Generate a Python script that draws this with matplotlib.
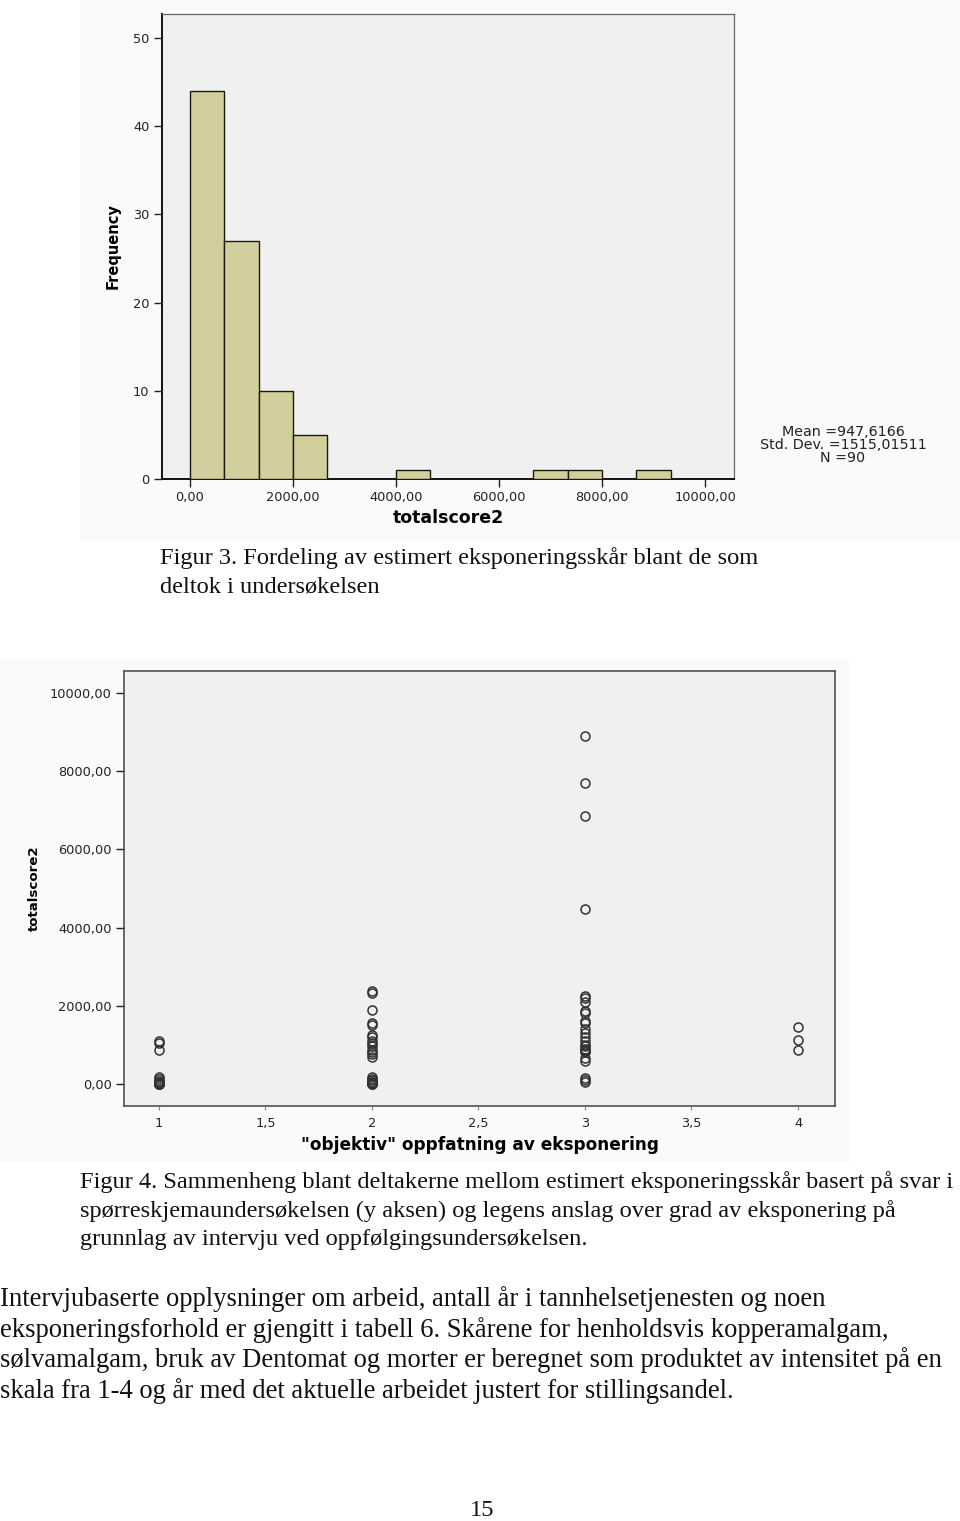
import matplotlib
matplotlib.use("Agg")
import matplotlib.pyplot as plt
from matplotlib.patches import Rectangle

# ---------------- data ----------------
bin_width = 666.67
bin_lefts = [0, 666.67, 1333.33, 2000, 4000, 6666.67, 7333.33, 8666.67]
bin_counts = [44, 27, 10, 5, 1, 1, 1, 1]
hist_xticks = [0, 2000, 4000, 6000, 8000, 10000]
hist_xticklabels = ["0,00", "2000,00", "4000,00", "6000,00", "8000,00", "10000,00"]
hist_yticks = [0, 10, 20, 30, 40, 50]
stats_lines = ["Mean =947,6166", "Std. Dev. =1515,01511", "N =90"]

group1 = [1090, 1060, 870, 180, 120, 80, 50, 30, 20, 10, 0, 0, 0, 0, 0]
group2 = [2370, 2330, 1880, 1560, 1510, 1250, 1190, 1100, 1050, 960, 880, 830,
          760, 700, 170, 130, 90, 60, 40, 20, 0, 0, 0]
group3 = [8900, 7690, 6860, 4470, 2240, 2190, 2100, 1860, 1820, 1600, 1560, 1410,
          1300, 1190, 1100, 1000, 960, 900, 870, 840, 820, 660, 580, 150, 90, 50]
group4 = [1470, 1120, 860]
scatter_groups = [(1, group1), (2, group2), (3, group3), (4, group4)]
sc_xticks = [1, 1.5, 2, 2.5, 3, 3.5, 4]
sc_xticklabels = ["1", "1,5", "2", "2,5", "3", "3,5", "4"]
sc_yticks = [0, 2000, 4000, 6000, 8000, 10000]
sc_yticklabels = ["0,00", "2000,00", "4000,00", "6000,00", "8000,00", "10000,00"]

caption3 = ["Figur 3. Fordeling av estimert eksponeringsskår blant de som",
            "deltok i undersøkelsen"]
caption4 = ["Figur 4. Sammenheng blant deltakerne mellom estimert eksponeringsskår basert på svar i",
            "spørreskjemaundersøkelsen (y aksen) og legens anslag over grad av eksponering på",
            "grunnlag av intervju ved oppfølgingsundersøkelsen."]
body = ["Intervjubaserte opplysninger om arbeid, antall år i tannhelsetjenesten og noen",
        "eksponeringsforhold er gjengitt i tabell 6. Skårene for henholdsvis kopperamalgam,",
        "sølvamalgam, bruk av Dentomat og morter er beregnet som produktet av intensitet på en",
        "skala fra 1-4 og år med det aktuelle arbeidet justert for stillingsandel."]
page_number = "15"

# ---------------- figure ----------------
W, H = 960, 1521
fig = plt.figure(figsize=(W / 100, H / 100), dpi=100)
fig.patch.set_facecolor("white")


def fx(x):
    return x / W


def fy(y):
    return 1 - y / H


def axrect(l, t, r, b):
    return [fx(l), fy(b), (r - l) / W, (b - t) / H]


# faint background of chart images
fig.patches.append(Rectangle((fx(80), fy(540)), (960 - 80) / W, 540 / H,
                             transform=fig.transFigure, facecolor="#FAFAFA",
                             edgecolor="none", zorder=-10))
fig.patches.append(Rectangle((fx(0), fy(1162)), 850 / W, (1162 - 660) / H,
                             transform=fig.transFigure, facecolor="#FAFAFA",
                             edgecolor="none", zorder=-10))

sans = "DejaVu Sans"
serif = "Liberation Serif"
tickcol = "#222222"
tfs = 9.3

# ---------------- histogram ----------------
ax1 = fig.add_axes(axrect(162, 14, 734, 479))
ax1.set_zorder(5)
ax1.set_facecolor("#F0F0F0")
ax1.bar(bin_lefts, bin_counts, width=bin_width, align="edge",
        color="#D3CF9C", edgecolor="#1a1a0a", linewidth=1.0, zorder=3)
ax1.set_xlim(-544, 10563)
ax1.set_ylim(0, 52.7)
ax1.set_xticks(hist_xticks)
ax1.set_xticklabels(hist_xticklabels, fontsize=tfs, family=sans, color=tickcol)
ax1.set_yticks(hist_yticks)
ax1.set_yticklabels([str(v) for v in hist_yticks], fontsize=tfs, family=sans, color=tickcol)
ax1.tick_params(direction="out", length=6, width=1.0, color="#222222", pad=3)
for s in ["top", "right"]:
    ax1.spines[s].set_color("#666666")
    ax1.spines[s].set_linewidth(0.9)
for s in ["left", "bottom"]:
    ax1.spines[s].set_color("#111111")
    ax1.spines[s].set_linewidth(1.4)
ax1.set_xlabel("totalscore2", fontsize=12.5, fontweight="bold", family=sans, labelpad=3)
ax1.set_ylabel("Frequency", fontsize=10.5, fontweight="bold", family=sans, labelpad=9)

for i, line in enumerate(stats_lines):
    fig.text(fx(843), fy(432 + i * 13), line, ha="center", va="center",
             fontsize=10.3, family=sans, color="#222222")

# ---------------- scatter ----------------
ax2 = fig.add_axes(axrect(124, 671, 835, 1106))
ax2.set_zorder(5)
ax2.set_facecolor("#F0F0F0")
for xval, vals in scatter_groups:
    ax2.plot([xval] * len(vals), vals, linestyle="none", marker="o",
             markersize=6.5, markerfacecolor="none", markeredgecolor="#333333",
             markeredgewidth=1.1, zorder=3)
ax2.set_xlim(0.836, 4.174)
ax2.set_ylim(-563, 10563)
ax2.set_xticks(sc_xticks)
ax2.set_xticklabels(sc_xticklabels, fontsize=tfs, family=sans, color=tickcol)
ax2.set_yticks(sc_yticks)
ax2.set_yticklabels(sc_yticklabels, fontsize=tfs, family=sans, color=tickcol)
ax2.tick_params(axis="y", direction="out", length=6, width=1.0, color="#222222", pad=3)
ax2.tick_params(axis="x", direction="out", length=3, width=0.8, color="#888888", pad=5)
for s in ["top", "right", "left", "bottom"]:
    ax2.spines[s].set_color("#444444")
    ax2.spines[s].set_linewidth(1.1)
ax2.set_xlabel("\"objektiv\" oppfatning av eksponering", fontsize=12.2,
               fontweight="bold", family=sans, labelpad=4)
ax2.set_ylabel("totalscore2", fontsize=9.6, fontweight="bold", family=sans, labelpad=6)

# ---------------- document text ----------------
fs_cap = 17.6
fs_body = 19.2
for i, line in enumerate(caption3):
    fig.text(fx(160), fy(558 + i * 29), line, ha="left", va="center",
             fontsize=fs_cap, family=serif, color="#111111")
for i, line in enumerate(caption4):
    fig.text(fx(80), fy(1182 + i * 28.7), line, ha="left", va="center",
             fontsize=fs_cap, family=serif, color="#111111")
for i, line in enumerate(body):
    fig.text(fx(0), fy(1299 + i * 30.7), line, ha="left", va="center",
             fontsize=fs_body, family=serif, color="#111111")
fig.text(fx(482), fy(1510), page_number, ha="center", va="center",
         fontsize=fs_cap, family=serif, color="#111111")

fig.savefig("out.png", dpi=100)
